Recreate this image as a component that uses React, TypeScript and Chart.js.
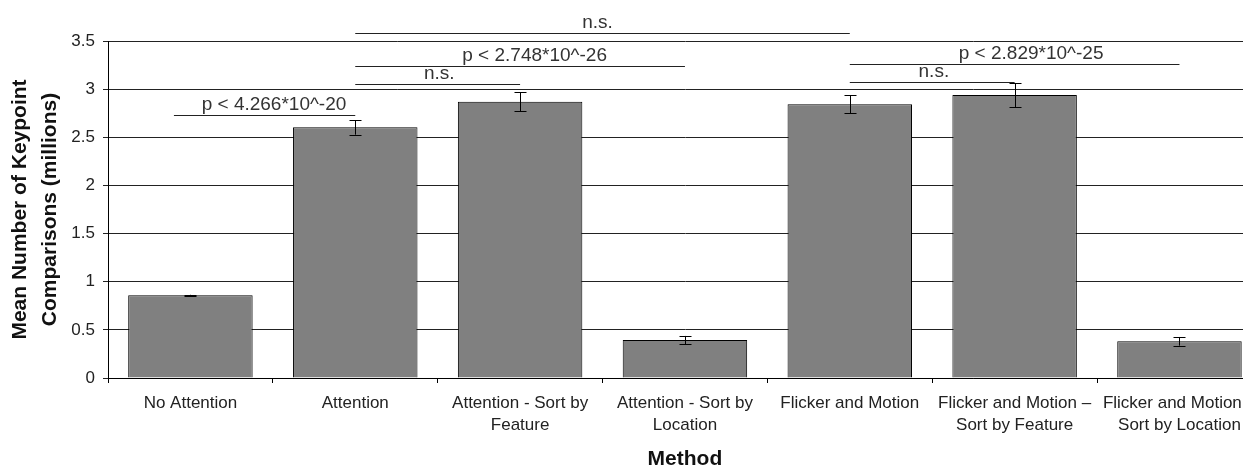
import React, { useEffect, useRef } from "react";
import { Chart, registerables } from "chart.js";

Chart.register(...registerables);

const categories: (string | string[])[] = [
  "No Attention",
  "Attention",
  ["Attention - Sort by", "Feature"],
  ["Attention - Sort by", "Location"],
  "Flicker and Motion",
  ["Flicker and Motion \u2013", "Sort by Feature"],
  ["Flicker and Motion \u2013", "Sort by Location"],
];
const means = [0.859, 2.603, 2.87, 0.395, 2.842, 2.939, 0.381];
const errors = [0.005, 0.076, 0.1, 0.042, 0.092, 0.125, 0.045];
const yTickLabels = ["0", "0.5", "1", "1.5", "2", "2.5", "3", "3.5"];

const sigLabels = ["p < 4.266*10^-20", "n.s.", "p < 2.748*10^-26", "n.s.", "p < 2.829*10^-25", "n.s."];
const sigFrom = [-0.1, 1, 1, 1, 4, 4];
const sigTo = [1, 4, 3, 2, 6, 5];
const sigLevel = [2.731, 3.583, 3.243, 3.054, 3.261, 3.075];
const sigLabelAt = [0.507, 2.47, 2.088, 1.51, 5.1, 4.51];

const FONT = "'Liberation Sans', Arial, sans-serif";

const overlayPlugin = {
  id: "overlay",
  afterDatasetsDraw(chart: any) {
    const ctx = chart.ctx;
    const y = chart.scales.y;
    const meta = chart.getDatasetMeta(0);
    ctx.save();
    ctx.strokeStyle = "#000";
    ctx.lineWidth = 1;
    meta.data.forEach((bar: any, i: number) => {
      const cx = Math.round(bar.x) + 0.5;
      const top = y.getPixelForValue(means[i] + errors[i]);
      const bot = y.getPixelForValue(means[i] - errors[i]);
      ctx.beginPath();
      ctx.moveTo(cx, top);
      ctx.lineTo(cx, bot);
      ctx.moveTo(cx - 6, Math.round(top) + 0.5);
      ctx.lineTo(cx + 6, Math.round(top) + 0.5);
      ctx.moveTo(cx - 6, Math.round(bot) + 0.5);
      ctx.lineTo(cx + 6, Math.round(bot) + 0.5);
      ctx.stroke();
    });
    ctx.restore();
  },
  afterDraw(chart: any) {
    const ctx = chart.ctx;
    const x = chart.scales.x;
    const y = chart.scales.y;
    ctx.save();
    ctx.strokeStyle = "#222";
    ctx.lineWidth = 1;
    ctx.fillStyle = "#333";
    ctx.font = `19px ${FONT}`;
    ctx.textAlign = "center";
    ctx.textBaseline = "alphabetic";
    sigLabels.forEach((lab, i) => {
      const ly = Math.round(y.getPixelForValue(sigLevel[i])) + 0.5;
      const x1 = x.getPixelForValue(sigFrom[i]);
      const x2 = x.getPixelForValue(sigTo[i]);
      ctx.beginPath();
      ctx.moveTo(x1, ly);
      ctx.lineTo(x2, ly);
      ctx.stroke();
      ctx.fillText(lab, x.getPixelForValue(sigLabelAt[i]), ly - 6);
    });
    ctx.restore();
  },
};

export default function App() {
  const ref = useRef<HTMLCanvasElement>(null);
  useEffect(() => {
    if (!ref.current) return;
    const chart = new Chart(ref.current, {
      type: "bar",
      data: {
        labels: categories as any,
        datasets: [
          {
            data: means,
            backgroundColor: "#808080",
            borderColor: "#000",
            borderWidth: 1,
            categoryPercentage: 1,
            barPercentage: 0.755,
          },
        ],
      },
      options: {
        responsive: false,
        animation: false,
        layout: { padding: { top: 41, left: 0, right: 0, bottom: 0 } },
        plugins: { legend: { display: false }, tooltip: { enabled: false } },
        scales: {
          x: {
            afterFit: (s: any) => {
              s.height = 95;
            },
            grid: {
              offset: true,
              drawOnChartArea: false,
              tickLength: 5,
              color: "#000",
            },
            border: { display: true, color: "#000" },
            ticks: {
              color: "#222",
              padding: 9,
              maxRotation: 0,
              autoSkip: false,
              font: { family: FONT, size: 17, lineHeight: 1.32 },
            },
            title: {
              display: true,
              text: "Method",
              color: "#111",
              font: { family: FONT, size: 21, weight: "bold", lineHeight: 1.2 },
              padding: { top: 0, bottom: 1 },
            },
          },
          y: {
            min: 0,
            max: 3.5,
            afterFit: (s: any) => {
              s.width = 108;
            },
            grid: { color: "#222", tickLength: 5 },
            border: { display: true, color: "#000" },
            ticks: {
              stepSize: 0.5,
              color: "#222",
              padding: 8,
              font: { family: FONT, size: 17 },
              callback: (_v: any, i: number) => yTickLabels[i],
            },
            title: {
              display: true,
              text: ["Mean Number of Keypoint", "Comparisons (millions)"],
              color: "#111",
              font: { family: FONT, size: 21, weight: "bold", lineHeight: 1.43 },
              padding: { top: 5, bottom: 0 },
            },
          },
        },
      },
      plugins: [overlayPlugin],
    } as any);
    return () => chart.destroy();
  }, []);
  return (
    <div
      style={{
        position: "fixed",
        left: 0,
        top: 0,
        width: 1243,
        height: 473,
        overflow: "hidden",
        background: "#fff",
      }}
    >
      <canvas ref={ref} width={1265} height={473} style={{ display: "block" }} />
    </div>
  );
}
